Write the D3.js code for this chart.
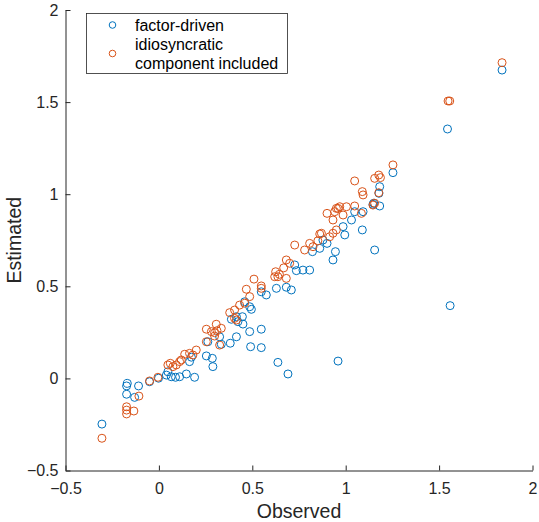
<!DOCTYPE html>
<html>
<head>
<meta charset="utf-8">
<script src="https://d3js.org/d3.v7.min.js"></script>
<style>
  body { margin: 0; background: #fff; }
  svg { font-family: "Liberation Sans", Arial, sans-serif; }
</style>
</head>
<body>
<script>
// factor-driven estimates
const factorObs = [-0.305, -0.169, -0.173, -0.109, -0.173, -0.130, -0.050, -0.002, 0.040, 0.048,
  0.066, 0.089, 0.111, 0.147, 0.191, 0.164, 0.174, 0.254, 0.286, 0.289,
  0.262, 0.325, 0.334, 0.382, 0.415, 0.486, 0.491, 0.548, 0.548, 0.637,
  0.691, 0.959, 0.388, 0.423, 0.450, 0.415, 0.486, 0.495, 0.447, 0.459,
  0.575, 0.548, 0.629, 0.682, 0.709, 0.736, 0.771, 0.807, 0.727, 0.822,
  0.861, 0.878, 0.900, 0.945, 0.932, 0.986, 0.995, 1.031, 1.048, 1.093,
  1.089, 1.150, 1.182, 1.178, 1.182, 1.253, 1.155, 1.146, 1.545, 1.559, 1.837];
const factorEst = [-0.248, -0.027, -0.041, -0.041, -0.086, -0.103, -0.018, 0.001, 0.018, 0.036,
  0.009, 0.006, 0.009, 0.024, 0.006, 0.091, 0.115, 0.122, 0.109, 0.064,
  0.199, 0.226, 0.185, 0.191, 0.226, 0.254, 0.172, 0.167, 0.267, 0.087,
  0.024, 0.094, 0.321, 0.308, 0.295, 0.335, 0.389, 0.375, 0.335, 0.416,
  0.453, 0.470, 0.489, 0.495, 0.480, 0.585, 0.588, 0.588, 0.616, 0.688,
  0.706, 0.751, 0.733, 0.688, 0.643, 0.824, 0.779, 0.860, 0.905, 0.905,
  0.806, 0.951, 0.936, 1.005, 1.041, 1.117, 0.697, 0.945, 1.354, 0.395, 1.674];

// idiosyncratic component included
const idioObs = [-0.305, -0.173, -0.173, -0.173, -0.134, -0.107, -0.050, -0.005, 0.048, 0.061,
  0.075, 0.093, 0.111, 0.120, 0.138, 0.164, 0.182, 0.200, 0.254, 0.254,
  0.281, 0.298, 0.307, 0.311, 0.325, 0.298, 0.334, 0.379, 0.405, 0.432,
  0.459, 0.415, 0.405, 0.486, 0.468, 0.509, 0.548, 0.548, 0.620, 0.625,
  0.637, 0.645, 0.682, 0.682, 0.700, 0.668, 0.727, 0.780, 0.807, 0.825,
  0.851, 0.861, 0.870, 0.914, 0.932, 0.950, 0.900, 0.932, 0.950, 0.968,
  1.004, 0.959, 0.941, 0.986, 1.048, 1.084, 1.048, 1.089, 1.093, 1.177,
  1.155, 1.146, 1.177, 1.155, 1.186, 1.253, 1.548, 1.557, 1.837];
const idioEst = [-0.325, -0.154, -0.172, -0.193, -0.177, -0.096, -0.014, 0.006, 0.073, 0.082,
  0.064, 0.073, 0.091, 0.100, 0.131, 0.136, 0.127, 0.154, 0.199, 0.267,
  0.254, 0.248, 0.294, 0.259, 0.181, 0.230, 0.272, 0.357, 0.371, 0.398,
  0.408, 0.317, 0.326, 0.444, 0.484, 0.539, 0.502, 0.489, 0.552, 0.579,
  0.552, 0.565, 0.543, 0.643, 0.625, 0.600, 0.724, 0.697, 0.733, 0.715,
  0.747, 0.784, 0.788, 0.769, 0.788, 0.806, 0.896, 0.860, 0.923, 0.932,
  0.932, 0.923, 0.905, 0.887, 0.936, 0.896, 1.072, 1.014, 0.996, 1.008,
  0.951, 0.941, 1.104, 1.086, 1.090, 1.159, 1.506, 1.506, 1.714];

const xTicks = [-0.5, 0, 0.5, 1, 1.5, 2];
const yTicks = [-0.5, 0, 0.5, 1, 1.5, 2];
const seriesNames = ["factor-driven", "idiosyncratic", "component included"];
const seriesColors = ["#0072BD", "#D95319"];

const svg_w = 539, svg_h = 522;
const left_marg = 65.5, right_marg = 6.5, top_marg = 10, bottom_marg = 51.5;
const axisColor = "#262626";

const svg = d3.select("body").append("svg")
  .attr("width", svg_w)
  .attr("height", svg_h);

const x_scale = d3.scaleLinear().domain([-0.5, 2]).range([left_marg, svg_w - right_marg]);
const y_scale = d3.scaleLinear().domain([-0.5, 2]).range([svg_h - bottom_marg, top_marg]);

// points
function drawSeries(obs, est, color) {
  svg.append("g").selectAll("circle")
    .data(d3.range(obs.length))
    .enter().append("circle")
    .attr("cx", i => x_scale(obs[i]))
    .attr("cy", i => y_scale(est[i]))
    .attr("r", 4)
    .attr("fill", "none")
    .attr("stroke", color)
    .attr("stroke-width", 1);
}
drawSeries(factorObs, factorEst, seriesColors[0]);
drawSeries(idioObs, idioEst, seriesColors[1]);

// axes (ticks pointing inward)
const x_axis = d3.axisBottom(x_scale).tickValues(xTicks).tickSizeInner(-5).tickSizeOuter(0).tickPadding(12)
  .tickFormat(d3.format("~g"));
const y_axis = d3.axisLeft(y_scale).tickValues(yTicks).tickSizeInner(-5).tickSizeOuter(0).tickPadding(7)
  .tickFormat(d3.format("~g"));

const gx = svg.append("g")
  .attr("transform", "translate(0," + (svg_h - bottom_marg) + ")")
  .call(x_axis);
const gy = svg.append("g")
  .attr("transform", "translate(" + left_marg + ",0)")
  .call(y_axis);

[gx, gy].forEach(g => {
  g.select(".domain").attr("stroke", axisColor).attr("stroke-width", 1);
  g.selectAll(".tick line").attr("stroke", axisColor);
  g.selectAll(".tick text")
    .attr("fill", axisColor)
    .style("font-size", "16px")
    .style("font-family", "'Liberation Sans', Arial, sans-serif");
});

// axis labels
svg.append("text")
  .text("Observed")
  .attr("x", (left_marg + svg_w - right_marg) / 2)
  .attr("y", 518)
  .attr("text-anchor", "middle")
  .attr("fill", axisColor)
  .style("font-size", "19.5px");

svg.append("text")
  .text("Estimated")
  .attr("text-anchor", "middle")
  .attr("fill", axisColor)
  .style("font-size", "19.5px")
  .attr("transform", "translate(21," + ((top_marg + svg_h - bottom_marg) / 2) + ")rotate(-90)");

// legend
const legend = svg.append("g");
legend.append("rect")
  .attr("x", 86.5).attr("y", 13.5)
  .attr("width", 201).attr("height", 60)
  .attr("fill", "#fff")
  .attr("stroke", axisColor)
  .attr("stroke-width", 0.8);
legend.append("circle")
  .attr("cx", 112.5).attr("cy", 25).attr("r", 3.3)
  .attr("fill", "none").attr("stroke", seriesColors[0]);
legend.append("circle")
  .attr("cx", 112.5).attr("cy", 53.5).attr("r", 3.3)
  .attr("fill", "none").attr("stroke", seriesColors[1]);
[[seriesNames[0], 25], [seriesNames[1], 44.5], [seriesNames[2], 63]].forEach(([t, y]) => {
  legend.append("text")
    .text(t)
    .attr("x", 135)
    .attr("y", y)
    .attr("dy", "0.35em")
    .attr("fill", "#000")
    .style("font-size", "16px");
});
</script>
</body>
</html>
